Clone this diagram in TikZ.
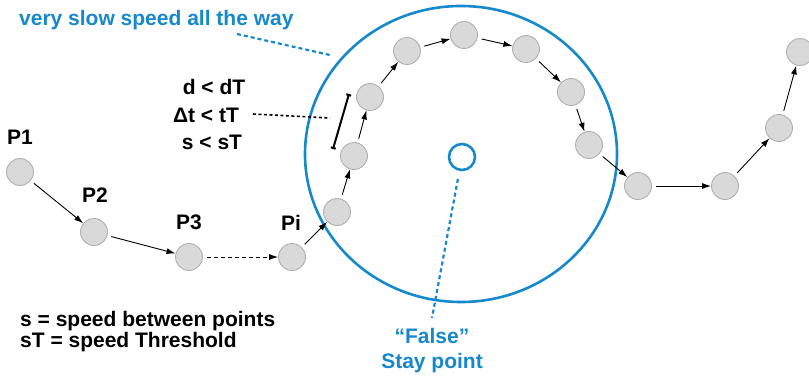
\documentclass[tikz,border=0pt]{standalone}
\usepackage{fontspec}
\setmainfont{Liberation Sans}
\usetikzlibrary{arrows.meta,shapes.geometric}
\definecolor{sblue}{RGB}{22,136,204}
\definecolor{nfill}{RGB}{217,217,217}
\definecolor{nedge}{RGB}{176,176,176}
\tikzset{
  pt/.style={circle,minimum size=27pt,inner sep=0pt,fill=nfill,draw=nedge,line width=0.9pt},
  lbl/.style={font=\fontsize{21}{24}\selectfont\bfseries,inner sep=0pt},
  blbl/.style={font=\fontsize{21}{25}\selectfont\bfseries,inner sep=0pt,text=sblue},
  arr/.style={-{Latex[length=9pt,width=6pt]},line width=0.9pt,shorten <=4pt},
  bluedot/.style={sblue,line width=2.2pt,dash pattern=on 4pt off 3pt},
}
\begin{document}
\begin{tikzpicture}[x=1pt,y=-1pt]
\useasboundingbox (0,0) rectangle (809,380);
% big ellipse and stay point
\node[ellipse,draw=sblue,line width=2.6pt,minimum width=312pt,minimum height=296pt,inner sep=0pt] (big) at (461,154) {};
\node[circle,draw=sblue,line width=2.6pt,minimum size=26pt,inner sep=0pt] (sp) at (462,157) {};
% points
\node[pt] (p1) at (20,172) {};
\node[pt] (p2) at (94,232) {};
\node[pt] (p3) at (189,257) {};
\node[pt] (pi) at (292,257) {};
\node[pt] (a1) at (337,212) {};
\node[pt] (a2) at (354,156) {};
\node[pt] (a3) at (370,97) {};
\node[pt] (a4) at (407,51) {};
\node[pt] (a5) at (464,35) {};
\node[pt] (a6) at (526,49) {};
\node[pt] (a7) at (571,92) {};
\node[pt] (a8) at (589,145) {};
\node[pt] (b1) at (638,186) {};
\node[pt] (b2) at (725,186) {};
\node[pt] (b3) at (779,128) {};
\node[pt] (b4) at (800,52) {};
% labels
\node[lbl] (l1) at (20,137) {P1};
\node[lbl] (l2) at (95,195) {P2};
\node[lbl] (l3) at (189,222) {P3};
\node[lbl] (li) at (291,223) {Pi};
% arrows
\draw[arr] (p1) -- (p2);
\draw[arr] (p2) -- (p3);
\draw[arr,dash pattern=on 4pt off 3pt] (p3) -- (pi);
\draw[arr] (pi) -- (a1);
\draw[arr] (a1) -- (a2);
\draw[arr] (a2) -- (a3);
\draw[arr] (a3) -- (a4);
\draw[arr] (a4) -- (a5);
\draw[arr] (a5) -- (a6);
\draw[arr] (a6) -- (a7);
\draw[arr] (a7) -- (a8);
\draw[arr] (a8) -- (b1);
\draw[arr] (b1) -- (b2);
\draw[arr] (b2) -- (b3);
\draw[arr] (b3) -- (b4);
% conditions
\node[lbl] (c1) at (214,87) {d < dT};
\node[lbl] (c2) at (206,115) {Δt < tT};
\node[lbl] (c3) at (212,142) {s < sT};
\coordinate (bt) at (349,94);
\coordinate (bb) at (333,149);
\draw[{Bar[width=5pt]}-{Bar[width=5pt]},line width=2pt] (bt) -- (bb);
\coordinate (ds) at (253,114);
\coordinate (de) at (330,118);
\draw[line width=1.6pt,dash pattern=on 3pt off 2.5pt] (ds) -- (de);
% top label
\node[blbl,anchor=west] (top) at (19,20) {very slow speed all the way};
\coordinate (ts) at (237,34);
\coordinate (te) at (330,55);
\draw[bluedot] (ts) -- (te);
% stay point label
\node[blbl,align=center] (fs) at (432,351) {“False”\\Stay point};
\coordinate (fe) at (432,318);
\draw[bluedot,shorten <=8pt] (sp) -- (fe);
% legend
\node[lbl,align=left,anchor=west,font=\fontsize{21}{21}\selectfont\bfseries] (leg) at (20,332) {s = speed between points\\sT = speed Threshold};
\end{tikzpicture}
\end{document}
